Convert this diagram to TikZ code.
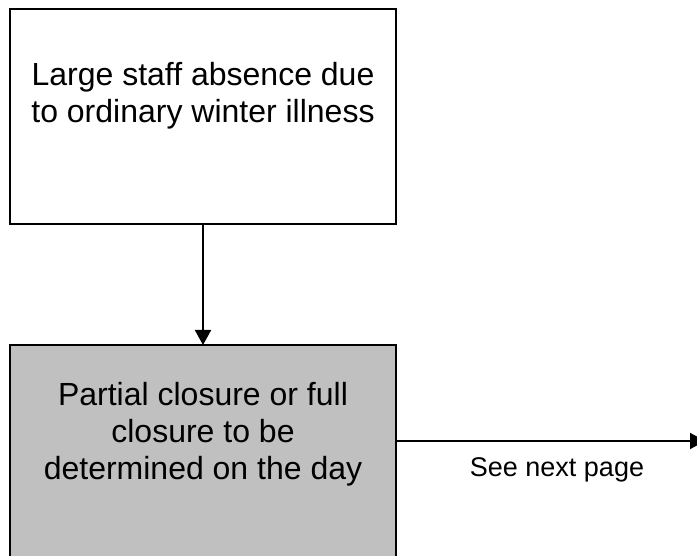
\documentclass[tikz,border=0pt]{standalone}
\usepackage{fontspec}
\setmainfont{Liberation Sans}
\usetikzlibrary{arrows.meta}
\definecolor{boxgray}{HTML}{C0C0C0}
\begin{document}
\begin{tikzpicture}[x=1pt,y=-1pt,
  box/.style={draw=black, line width=2pt, inner sep=0pt, outer sep=0pt},
  txt/.style={align=center, font=\fontsize{32}{37}\selectfont, inner sep=0pt},
  small/.style={font=\fontsize{27}{31}\selectfont, inner sep=0pt},
  conn/.style={line width=2pt, -{Triangle[length=15pt,width=16pt]}}]
\useasboundingbox (0,0) rectangle (697,556);
\clip (0,0) rectangle (697,556);
\node[box, minimum width=386pt, minimum height=215pt] (top) at (203,116.5) {};
\node[box, fill=boxgray, minimum width=386pt, minimum height=230pt] (bot) at (203,460) {};
\node[txt] (t1) at (203,96) {Large staff absence due\\to ordinary winter illness};
\node[txt] (t2) at (203,434) {Partial closure or full\\closure to be\\determined on the day};
\node[small] (t3) at (557,470) {See next page};
\coordinate (ne) at (705,441);
\draw[conn] (top.south) -- (bot.north);
\draw[conn] (bot.east |- ne) -- (ne);
\end{tikzpicture}
\end{document}
